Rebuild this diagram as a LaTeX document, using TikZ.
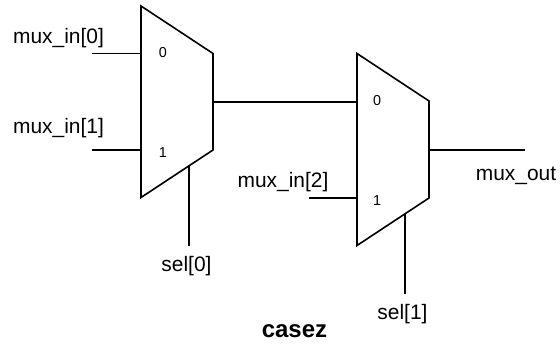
\documentclass[tikz,border=0pt]{standalone}
\usepackage{fontspec}
\setmainfont{Liberation Sans}
\usepackage{tikz}
\usetikzlibrary{calc}

\tikzset{
    muxbody/.style={draw=black, line width=1.2pt, line join=miter},
    wire/.style={draw=black, line width=1.2pt},
    siglabel/.style={font=\fontsize{15.7pt}{18pt}\selectfont, inner sep=0pt, anchor=center},
    portlabel/.style={font=\fontsize{10.8pt}{12pt}\selectfont, inner sep=0pt, anchor=center},
}

\begin{document}
\begin{tikzpicture}[x=0.75pt, y=-0.75pt]
    \useasboundingbox (0,0) rectangle (560,345);

    % First mux
    \draw[muxbody] (141,6) coordinate (muxatop) -- (213,53.5) -- (213,150) -- (141,197.5) -- cycle;
    \coordinate (muxain0) at (141,53.5);
    \coordinate (muxain1) at (141,150);
    \coordinate (muxaout) at (213,102);
    \coordinate (muxasel) at (189,165.5);
    \node[portlabel] (porta0) at (163,53) {0};
    \node[portlabel] (porta1) at (163,153) {1};

    % Second mux
    \draw[muxbody] (357,53.5) coordinate (muxbtop) -- (429,101) -- (429,198) -- (357,245.5) -- cycle;
    \coordinate (muxbin0) at (357,102);
    \coordinate (muxbin1) at (357,198);
    \coordinate (muxbout) at (429,150);
    \coordinate (muxbsel) at (405,214);
    \node[portlabel] (portb0) at (377,101) {0};
    \node[portlabel] (portb1) at (377,201) {1};

    % Free wire ends
    \coordinate (ina0) at (92,53.5);
    \coordinate (ina1) at (92,150);
    \coordinate (inb1) at (309,198);
    \coordinate (sela) at (189,246);
    \coordinate (selb) at (405,294);
    \coordinate (outb) at (525,150);

    % Wires
    \draw[wire] (ina0) -- (muxain0);
    \draw[wire] (ina1) -- (muxain1);
    \draw[wire] (muxaout) -- (muxbin0);
    \draw[wire] (inb1) -- (muxbin1);
    \draw[wire] (muxasel) -- (sela);
    \draw[wire] (muxbsel) -- (selb);
    \draw[wire] (muxbout) -- (outb);

    % Signal names
    \node[siglabel] (namein0) at (58.5,38) {mux\_in[0]};
    \node[siglabel] (namein1) at (58.5,128) {mux\_in[1]};
    \node[siglabel] (namein2) at (283,182) {mux\_in[2]};
    \node[siglabel] (namesel0) at (186.5,266) {sel[0]};
    \node[siglabel] (namesel1) at (402.5,314) {sel[1]};
    \node[siglabel] (nameout) at (516,176) {mux\_out};
    \node[siglabel, font=\fontsize{18pt}{20pt}\selectfont\bfseries] (title) at (294.5,331) {casez};
\end{tikzpicture}
\end{document}
